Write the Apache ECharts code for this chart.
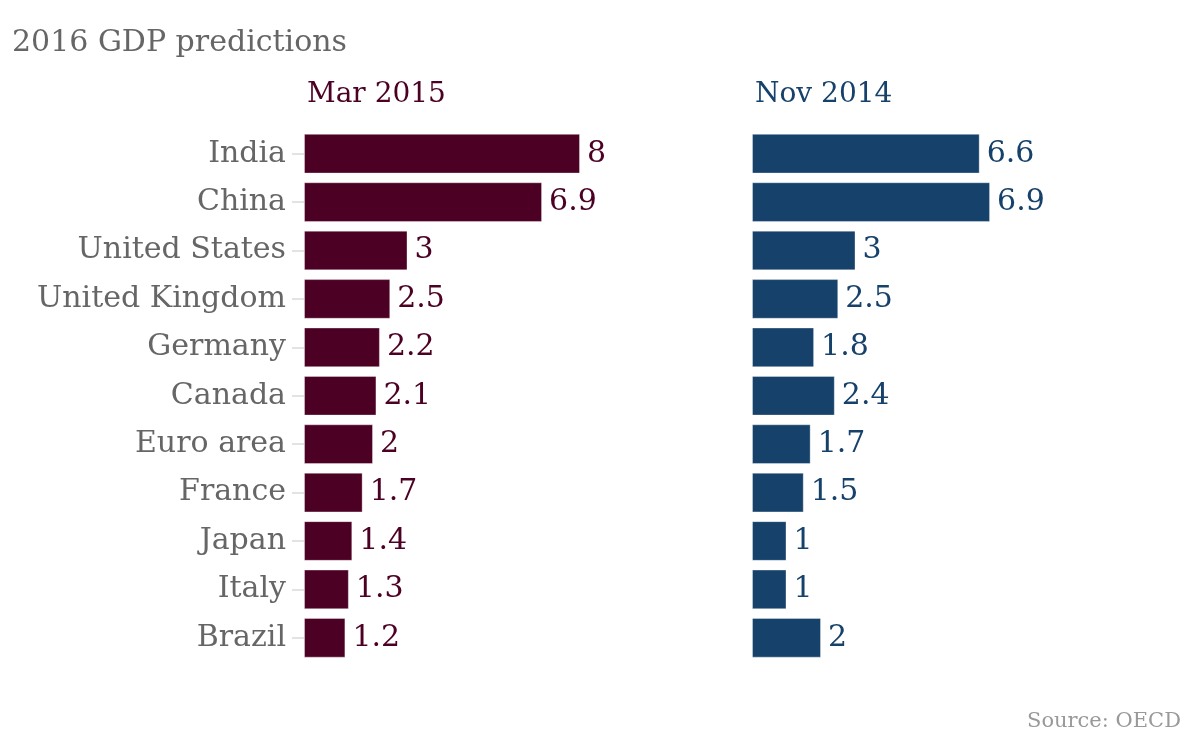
<!DOCTYPE html>
<html>
<head>
<meta charset="utf-8">
<script src="https://cdn.jsdelivr.net/npm/echarts@6/dist/echarts.min.js"></script>
<style>html,body{margin:0;padding:0;background:#fff}#c{width:1200px;height:738px}</style>
</head>
<body>
<div id="c"></div>
<script>
const categories = ["India","China","United States","United Kingdom","Germany","Canada","Euro area","France","Japan","Italy","Brazil"];
const mar2015 = [8, 6.9, 3, 2.5, 2.2, 2.1, 2, 1.7, 1.4, 1.3, 1.2];
const nov2014 = [6.6, 6.9, 3, 2.5, 1.8, 2.4, 1.7, 1.5, 1, 1, 2];
const seriesNames = ["Mar 2015", "Nov 2014"];

const FONT = '"DejaVu Serif", serif';
const C1 = '#4c0023', C2 = '#15416a';

const chart = echarts.init(document.getElementById('c'));
const gridTop = 129.5, gridH = 532.5;
chart.setOption({
  animation: false,
  title: [
    {text: '2016 GDP predictions', left: 7, top: 23, textStyle: {fontFamily: FONT, fontSize: 30, fontWeight: 'normal', color: '#666'}},
    {text: seriesNames[0], left: 302, top: 76, textStyle: {fontFamily: FONT, fontSize: 28, fontWeight: 'normal', color: C1}},
    {text: seriesNames[1], left: 750, top: 76, textStyle: {fontFamily: FONT, fontSize: 28, fontWeight: 'normal', color: C2}},
    {text: 'Source: OECD', right: 14, top: 706, textStyle: {fontFamily: FONT, fontSize: 21, fontWeight: 'normal', color: '#999'}}
  ],
  grid: [
    {left: 304, top: gridTop, width: 414, height: gridH},
    {left: 752, top: gridTop, width: 414, height: gridH}
  ],
  xAxis: [
    {gridIndex: 0, type: 'value', min: 0, max: 12, show: false},
    {gridIndex: 1, type: 'value', min: 0, max: 12, show: false}
  ],
  yAxis: [
    {gridIndex: 0, type: 'category', data: categories, inverse: true,
     axisLine: {show: false},
     axisTick: {show: true, alignWithLabel: true, length: 12, lineStyle: {color: '#e3e3e3', width: 2}},
     axisLabel: {margin: 18, fontFamily: FONT, fontSize: 30, color: '#666'},
     splitLine: {show: false}},
    {gridIndex: 1, type: 'category', data: categories, inverse: true, show: false}
  ],
  series: [
    {type: 'bar', name: seriesNames[0], xAxisIndex: 0, yAxisIndex: 0, data: mar2015,
     barCategoryGap: '18%',
     itemStyle: {color: C1, borderColor: 'rgba(255,255,255,0.35)', borderWidth: 1},
     label: {show: true, position: 'right', distance: 7, fontFamily: FONT, fontSize: 30, color: C1}},
    {type: 'bar', name: seriesNames[1], xAxisIndex: 1, yAxisIndex: 1, data: nov2014,
     barCategoryGap: '18%',
     itemStyle: {color: C2, borderColor: 'rgba(255,255,255,0.35)', borderWidth: 1},
     label: {show: true, position: 'right', distance: 7, fontFamily: FONT, fontSize: 30, color: C2}}
  ]
});
</script>
</body>
</html>
